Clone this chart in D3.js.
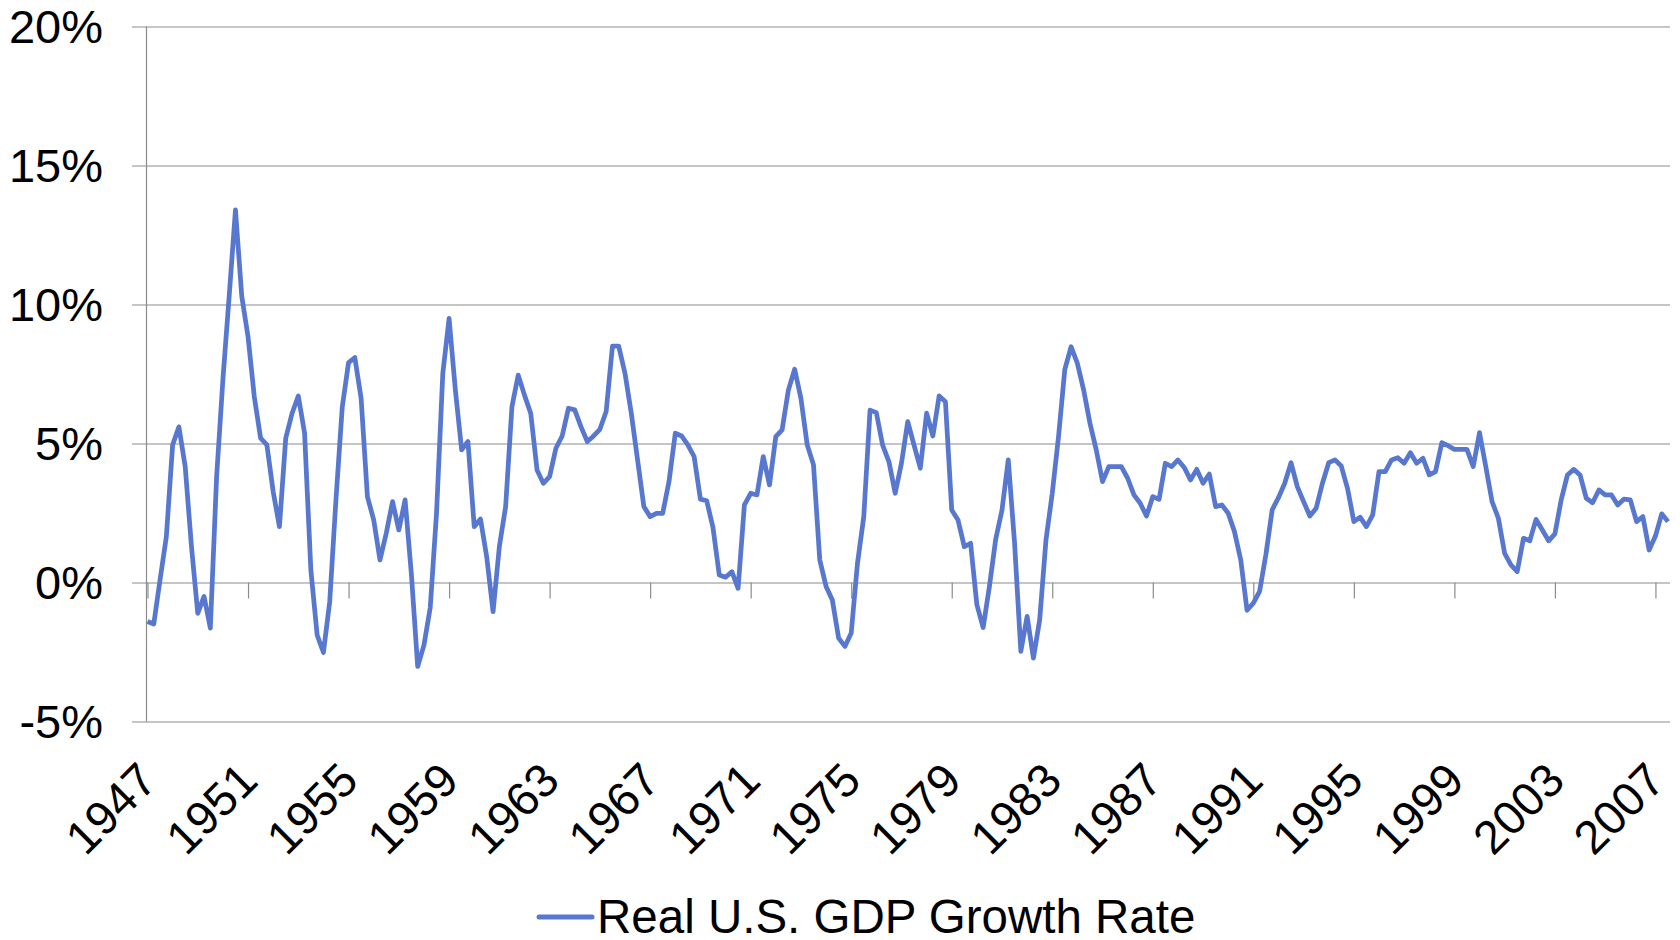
<!DOCTYPE html>
<html><head><meta charset="utf-8">
<script src="https://cdn.jsdelivr.net/npm/d3@7"></script>
<style>
html,body{margin:0;padding:0;background:#fff;}
svg{display:block;font-family:"Liberation Sans",Arial,sans-serif;}
</style>
</head><body>
<svg id="chart" width="1680" height="940"></svg>
<script>
// ---- data ----
const seriesName = "Real U.S. GDP Growth Rate";
const firstYear = 1947; // first quarter: 1947 Q1
const growthRate = [
  -1.40,-1.49,0.10,1.65, 4.95,5.60,4.17,1.29, -1.11,-0.50,-1.64,3.80,
  7.30,10.30,13.40,10.30, 8.84,6.68,5.19,4.95, 3.27,2.01,5.19,6.08,
  6.71,5.37,0.45,-1.89, -2.52,-0.69,3.00,6.32, 7.91,8.09,6.62,3.09,
  2.25,0.81,1.77,2.91, 1.89,2.97,0.30,-3.02, -2.25,-0.90,2.49,7.52,
  9.50,6.92,4.77,5.07, 2.01,2.28,0.90,-1.05, 1.29,2.73,6.32,7.46,
  6.74,6.08,4.05,3.57, 3.81,4.83,5.27,6.27, 6.21,5.60,5.07,5.27,
  5.51,6.15,8.50,8.50, 7.52,6.08,4.41,2.73, 2.37,2.49,2.49,3.63,
  5.37,5.27,4.95,4.53, 3.00,2.94,1.98,0.27, 0.19,0.39,-0.21,2.79,
  3.21,3.15,4.53,3.51, 5.25,5.49,6.92,7.67, 6.62,4.95,4.23,0.81,
  -0.14,-0.63,-2.00,-2.30, -1.82,0.69,2.37,6.20, 6.11,4.94,4.35,3.21,
  4.29,5.79,4.94,4.11, 6.09,5.27,6.71,6.50, 2.61,2.25,1.29,1.41,
  -0.80,-1.62,-0.14,1.56, 2.61,4.41,1.42,-2.48, -1.22,-2.72,-1.34,1.53,
  3.21,5.25,7.67,8.48, 7.88,6.92,5.73,4.77, 3.63,4.17,4.17,4.17,
  3.75,3.15,2.85,2.39, 3.09,2.99,4.29,4.17, 4.41,4.14,3.69,4.07,
  3.57,3.90,2.73,2.79, 2.49,1.83,0.81,-1.00, -0.74,-0.32,1.00,2.61,
  3.05,3.57,4.31,3.45, 2.91,2.39,2.67,3.57, 4.31,4.41,4.19,3.38,
  2.19,2.35,2.01,2.43, 3.99,3.99,4.41,4.49, 4.29,4.67,4.29,4.47,
  3.87,3.99,5.03,4.92, 4.79,4.79,4.79,4.17, 5.39,4.17,2.91,2.31,
  1.05,0.63,0.39,1.59, 1.50,2.27,1.89,1.50, 1.75,2.97,3.87,4.07,
  3.87,3.03,2.87,3.33, 3.15,3.15,2.79,3.00, 2.97,2.19,2.37,1.17,
  1.67,2.47,2.19
];
const xTickYears = [1947,1951,1955,1959,1963,1967,1971,1975,1979,1983,1987,1991,1995,1999,2003,2007];
const yTickValues = [-5,0,5,10,15,20];

const quarters = growthRate.map((_, i) => `${firstYear + Math.floor(i / 4)} Q${i % 4 + 1}`);
const data = growthRate.map((v, i) => ({ q: quarters[i], i, v }));

// ---- layout ----
const lineColor = "#5877cf";
const gridColor = "#8c8c8c";
const plotLeft = 146.5, plotRight = 1670, gridStart = 132;

const svg = d3.select("#chart");
const x = d3.scaleLinear().domain([0, quarters.length - 1]).range([147.5, 1668]);
const y = d3.scaleLinear().domain([-5, 20]).range([721.5, 26.5]);

// horizontal gridlines + y labels
const yAxis = svg.append("g")
  .attr("transform", `translate(${plotRight},0)`)
  .call(d3.axisLeft(y).tickValues(yTickValues)
    .tickSize(plotRight - gridStart).tickPadding(29)
    .tickFormat(d => d + "%"));
yAxis.select(".domain").remove();
yAxis.selectAll(".tick line").attr("stroke", gridColor).attr("stroke-width", 1.2);
yAxis.selectAll(".tick text")
  .attr("font-size", 47).attr("fill", "#000")
  .attr("font-family", '"Liberation Sans", Arial, sans-serif')
  .attr("dy", "0.35em");

// vertical value axis line
svg.append("line")
  .attr("x1", plotLeft).attr("x2", plotLeft)
  .attr("y1", y(20)).attr("y2", y(-5))
  .attr("stroke", gridColor).attr("stroke-width", 1.2);

// category axis (crosses at 0%)
const tickIdx = xTickYears.map(yr => (yr - firstYear) * 4);
const xAxis = svg.append("g")
  .attr("transform", `translate(0,${y(0)})`)
  .call(d3.axisBottom(x).tickValues(tickIdx).tickSize(16).tickFormat(""));
xAxis.select(".domain").remove();
xAxis.selectAll(".tick line").attr("stroke", gridColor).attr("stroke-width", 1.2);

// rotated year labels
svg.append("g").selectAll("text")
  .data(xTickYears)
  .join("text")
  .attr("transform", (yr, k) => `translate(${x(tickIdx[k]) + 12},783) rotate(-45)`)
  .attr("text-anchor", "end")
  .attr("font-size", 47)
  .attr("fill", "#000")
  .text(yr => yr);

// the series line
svg.append("path")
  .datum(data)
  .attr("fill", "none")
  .attr("stroke", lineColor)
  .attr("stroke-width", 4.75)
  .attr("stroke-linejoin", "round")
  .attr("d", d3.line().x(d => x(d.i)).y(d => y(d.v)));

// legend
const lg = svg.append("g");
lg.append("line")
  .attr("x1", 539).attr("x2", 592).attr("y1", 917).attr("y2", 917)
  .attr("stroke", lineColor).attr("stroke-width", 5)
  .attr("stroke-linecap", "round");
lg.append("text")
  .attr("x", 597).attr("y", 933)
  .attr("font-size", 47.5).attr("fill", "#000")
  .text(seriesName);
</script>
</body></html>
